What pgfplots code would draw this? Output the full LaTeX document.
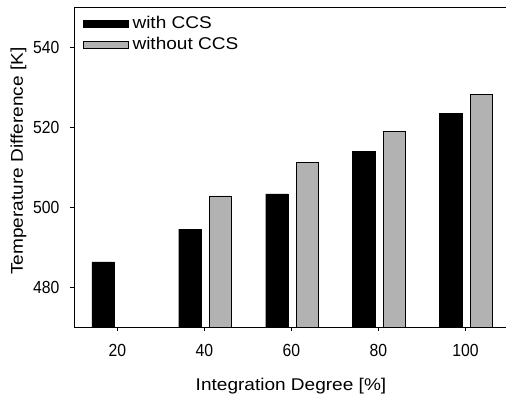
\documentclass[border=0pt]{standalone}
\usepackage{fontspec}
\setmainfont{Liberation Sans}[FakeStretch=1.12]
\newfontfamily\tickfont{Liberation Sans}[FakeStretch=0.9]
\usepackage{pgfplots}
\pgfplotsset{compat=1.18}
\begin{document}
\begin{tikzpicture}
\begin{axis}[name=ax, scale only axis, width=434bp, height=320bp,
 xmin=10, xmax=109.8, ymin=470, ymax=550,
 xtick={20,40,60,80,100}, ytick={480,500,520,540},
 tick align=outside, xtick pos=bottom, ytick pos=left,
 major tick length=4bp,
 axis line style={line width=0.8bp},
 tick style={line width=0.8bp, black},
 /pgf/number format/assume math mode=true,
 ticklabel style={font=\tickfont\fontsize{17.5bp}{19bp}\selectfont},
 xticklabel style={yshift=-10bp},
 yticklabel style={xshift=-7bp},
 label style={font=\fontsize{17bp}{20bp}\selectfont},
 xlabel={Integration Degree [\%]},
 xlabel style={yshift=-14bp},
 ylabel={Temperature Difference [K]},
 ylabel style={at={(ticklabel cs:0.515)}, xshift=1bp},
 ybar, bar width=5.17,
 legend style={draw=none, fill=none, at={(0.013,0.983)}, anchor=north west,
   font=\fontsize{17bp}{20bp}\selectfont, row sep=3bp,
   legend cell align=left},
 legend image code/.code={\draw[#1] (0bp,-3.5bp) rectangle (45bp,3.5bp); \path[draw=none,fill=none] (47.5bp,0bp);},
]
\addplot[fill=black, draw=black, bar shift=-3.33] coordinates {(20,486.3) (40,494.5) (60,503.3) (80,513.9) (100,523.4)};
\addplot[fill=black!30, draw=black, bar shift=3.65] coordinates {(40,502.8) (60,511.2) (80,519.0) (100,528.1)};
\legend{with CCS, without CCS}
\end{axis}
\pgfresetboundingbox
\path[use as bounding box] (ax.south west) ++(-74bp,-67bp) rectangle ++(506bp,394bp);
\end{tikzpicture}
\end{document}
